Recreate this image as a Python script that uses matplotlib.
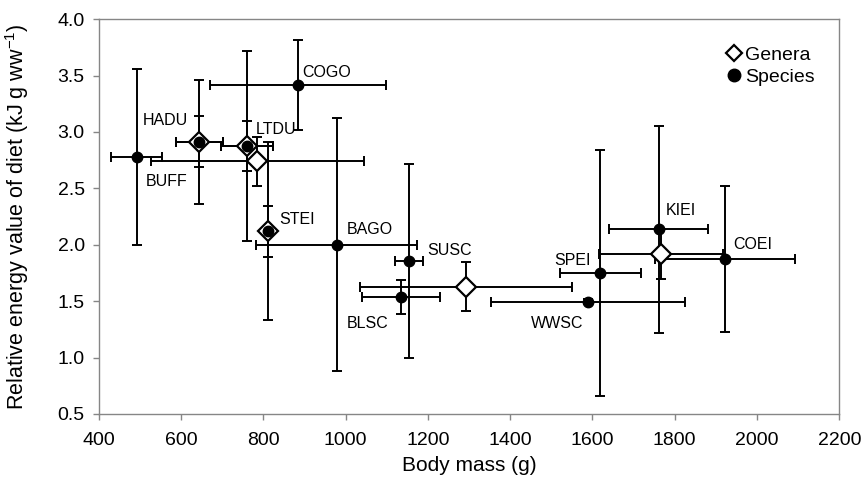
import numpy as np
import matplotlib
matplotlib.use("Agg")
import matplotlib.pyplot as plt

plt.rcParams['font.family'] = ['Liberation Sans', 'DejaVu Sans']

# species means (body mass, energy value) with error ranges
sp_names = ["BUFF", "HADU", "LTDU", "COGO", "STEI", "BAGO",
            "SUSC", "BLSC", "WWSC", "SPEI", "KIEI", "COEI"]
sp_mass = [492, 644, 761, 884, 811, 978, 1154, 1135, 1590, 1619, 1761, 1923]
sp_energy = [2.78, 2.913, 2.875, 3.42, 2.12, 2.0, 1.86, 1.54, 1.496, 1.747, 2.137, 1.874]
sp_mass_err = [63, 57, 63, 214, 8, 195, 34, 94, 236, 98, 121, 170]
sp_energy_err = [0.78, 0.55, 0.84, 0.40, 0.79, 1.12, 0.86, 0.15, 0.02, 1.09, 0.92, 0.645]

# genera means
gen_mass = [644, 761, 785, 811, 1293, 1767]
gen_energy = [2.913, 2.875, 2.74, 2.12, 1.63, 1.92]
gen_mass_err = [57, 63, 259, 8, 257, 150]
gen_energy_err = [0.225, 0.22, 0.22, 0.225, 0.22, 0.22]

# label positions (data coords, left edge)
lab_x = [514, 507, 781, 894, 838, 1003, 1199, 1003, 1450, 1506, 1778, 1941]
lab_y = [2.56, 3.105, 3.023, 3.53, 2.226, 2.137, 1.948, 1.305, 1.305, 1.865, 2.30, 2.004]


def make_plot():
    fig = plt.figure(figsize=(8.62, 4.8), dpi=100)
    ax = fig.add_axes([0.1145, 0.1375, 0.8592, 0.8225])

    eb = dict(fmt='none', ecolor='black', elinewidth=1.4, capsize=3.3,
              capthick=1.4, zorder=2)
    ax.errorbar(gen_mass, gen_energy, xerr=gen_mass_err, yerr=gen_energy_err, **eb)
    ax.errorbar(sp_mass, sp_energy, xerr=sp_mass_err, yerr=sp_energy_err, **eb)

    ax.plot(gen_mass, gen_energy, linestyle='none', marker='D', markersize=10,
            markerfacecolor='white', markeredgecolor='black',
            markeredgewidth=1.6, zorder=3, label='Genera')
    ax.plot(sp_mass, sp_energy, linestyle='none', marker='o', markersize=7.5,
            color='black', zorder=4, label='Species')

    for name, x, y in zip(sp_names, lab_x, lab_y):
        ax.text(x, y, name, fontsize=11.5, ha='left', va='center', zorder=5)

    ax.set_xlim(400, 2200)
    ax.set_ylim(0.5, 4.0)
    ax.set_xticks(np.arange(400, 2201, 200))
    ax.set_yticks(np.arange(0.5, 4.01, 0.5))
    ax.set_yticklabels(["%.1f" % v for v in np.arange(0.5, 4.01, 0.5)])

    for sp in ax.spines.values():
        sp.set_color('#868686')
        sp.set_linewidth(1.0)
    ax.tick_params(direction='out', length=4, width=1, color='#868686',
                   labelsize=14)
    ax.tick_params(axis='x', pad=9)
    ax.tick_params(axis='y', pad=6)

    ax.set_xlabel("Body mass (g)", fontsize=15, labelpad=5)
    ax.set_ylabel(r"Relative energy value of diet (kJ g ww$^{\mathregular{-1}}$)",
                  fontsize=15.5)
    ax.yaxis.set_label_coords(-0.092, 0.5)

    leg = ax.legend(loc='upper right', bbox_to_anchor=(0.985, 0.965), frameon=False,
                    fontsize=14, handletextpad=0.05, handlelength=1.0,
                    labelspacing=0.2, borderaxespad=0.3)
    leg.legend_handles[0].set_markersize(8)
    leg.legend_handles[1].set_markersize(9)

    fig.savefig("out.png", dpi=100)


if __name__ == '__main__':
    make_plot()
